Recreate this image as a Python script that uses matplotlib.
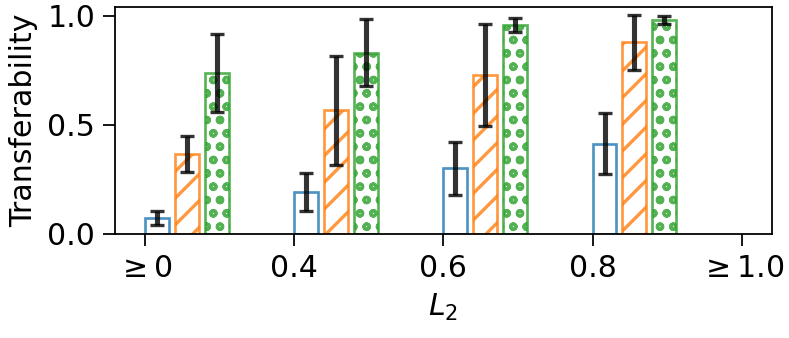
import numpy as np
import matplotlib
matplotlib.use("Agg")
import matplotlib.pyplot as plt

# Data
groups = [r"$\geq 0$", "0.4", "0.6", "0.8", r"$\geq 1.0$"]
series_a = [0.073, 0.193, 0.300, 0.413]
series_a_err = [0.032, 0.087, 0.123, 0.140]
series_b = [0.366, 0.566, 0.729, 0.878]
series_b_err = [0.082, 0.249, 0.234, 0.125]
series_c = [0.737, 0.831, 0.958, 0.981]
series_c_err = [0.178, 0.154, 0.033, 0.019]

plt.rcParams['font.size'] = 13.5
plt.rcParams['hatch.linewidth'] = 1.5

fig = plt.figure(figsize=(789 / 160, 338 / 160), dpi=160)
ax = fig.add_axes([0.146, 0.308, 0.832, 0.671])

x = np.arange(len(series_a))
width = 0.16
err_kw = dict(ecolor='black', elinewidth=2.3, capsize=3, capthick=1.5, alpha=0.8)

ax.bar(x + 0.08, series_a, width, facecolor='none', edgecolor='tab:blue',
       alpha=0.8, linewidth=1.2, yerr=series_a_err, error_kw=err_kw)
ax.bar(x + 0.28, series_b, width, facecolor='none', edgecolor='tab:orange',
       alpha=0.8, linewidth=1.2, hatch='//', yerr=series_b_err, error_kw=err_kw)
ax.bar(x + 0.48, series_c, width, facecolor='none', edgecolor='tab:green',
       alpha=0.8, linewidth=1.2, hatch='oo', yerr=series_c_err, error_kw=err_kw)

ax.set_xticks(np.arange(len(groups)))
ax.set_xticklabels(groups)
ax.set_xlim(-0.2, 4.2)
ax.set_ylim(0, 1.04)
ax.set_yticks([0.0, 0.5, 1.0])
ax.tick_params(length=5.5)
ax.set_xlabel(r"$L_2$")
ax.set_ylabel("Transferability")

fig.savefig("out.png", dpi=160)
